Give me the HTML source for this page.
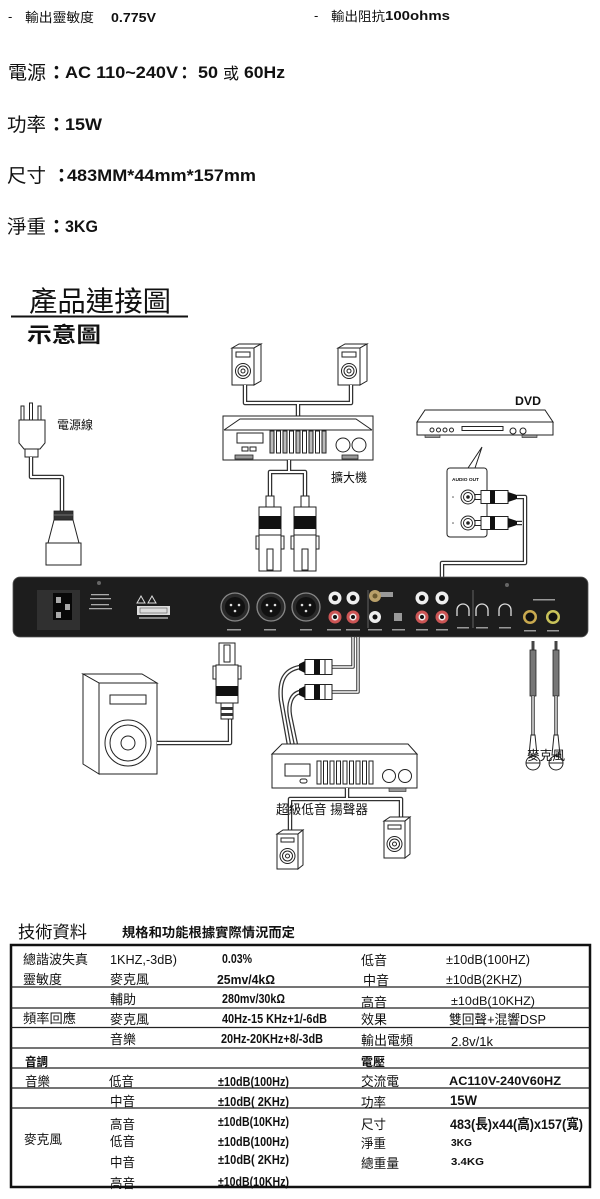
<!DOCTYPE html>
<html><head><meta charset="utf-8">
<style>
html,body{margin:0;padding:0;background:#fff;}
svg{display:block;}
text{font-family:"Liberation Sans","Noto Sans CJK TC",sans-serif;fill:#111;}
.b{font-weight:bold;}
.k{font-family:"Liberation Sans","Noto Sans CJK TC",sans-serif;}
.c1{fill:none;stroke:#333;stroke-width:4.5;stroke-linejoin:round;}
.c2{fill:none;stroke:#fff;stroke-width:2;stroke-linejoin:round;}
.s{stroke:#222;stroke-width:1;fill:#fff;}
.sn{stroke:#222;stroke-width:1;fill:none;}
</style></head><body>
<svg width="600" height="1199" viewBox="0 0 600 1199" xmlns="http://www.w3.org/2000/svg">

<!-- ===== top specs ===== -->
<text x="8" y="21" font-size="13">-</text>
<text x="25" y="22" font-size="13" textLength="69" lengthAdjust="spacingAndGlyphs">輸出靈敏度</text>
<text x="111" y="22" font-size="13" class="b" textLength="45" lengthAdjust="spacingAndGlyphs">0.775V</text>
<text x="314" y="20" font-size="13">-</text>
<text x="331" y="21" font-size="13" textLength="54" lengthAdjust="spacingAndGlyphs">輸出阻抗</text>
<text x="385" y="20" font-size="13" class="b" textLength="65" lengthAdjust="spacingAndGlyphs">100ohms</text>

<text x="8" y="79" font-size="19" textLength="38" lengthAdjust="spacingAndGlyphs">電源</text>
<text x="47" y="79" font-size="19" class="b">：</text>
<text x="65" y="78" font-size="17" class="b" textLength="113" lengthAdjust="spacingAndGlyphs">AC 110~240V</text>
<text x="176" y="79" font-size="17" class="b">：</text>
<text x="198" y="78" font-size="17" class="b" textLength="20" lengthAdjust="spacingAndGlyphs">50</text>
<text x="223" y="79" font-size="16">或</text>
<text x="244" y="78" font-size="17" class="b" textLength="41" lengthAdjust="spacingAndGlyphs">60Hz</text>

<text x="7" y="131" font-size="19" textLength="39" lengthAdjust="spacingAndGlyphs">功率</text>
<text x="47" y="131" font-size="19" class="b">：</text>
<text x="65" y="130" font-size="17" class="b" textLength="37" lengthAdjust="spacingAndGlyphs">15W</text>

<text x="7" y="182" font-size="19" textLength="39" lengthAdjust="spacingAndGlyphs">尺寸</text>
<text x="52" y="182" font-size="19" class="b">：</text>
<text x="67" y="181" font-size="17" class="b" textLength="189" lengthAdjust="spacingAndGlyphs">483MM*44mm*157mm</text>

<text x="7" y="233" font-size="19" textLength="39" lengthAdjust="spacingAndGlyphs">淨重</text>
<text x="47" y="233" font-size="19" class="b">：</text>
<text x="65" y="232" font-size="17" class="b" textLength="33" lengthAdjust="spacingAndGlyphs">3KG</text>

<!-- ===== title ===== -->
<text x="29" y="311" font-size="28" textLength="142" lengthAdjust="spacingAndGlyphs">產品連接圖</text>
<line x1="11" y1="316.5" x2="188" y2="316.5" stroke="#111" stroke-width="2"/>
<text x="27" y="342" font-size="21" class="b" textLength="74" lengthAdjust="spacingAndGlyphs">示意圖</text>

<!-- ===== top speakers ===== -->
<g>
  <path class="s" d="M232,348 L239,344 L261,344 L254,348 Z"/>
  <rect class="s" x="232" y="348" width="22" height="37"/>
  <path class="s" d="M254,348 L261,344 L261,381 L254,385 Z"/>
  <rect class="s" x="236" y="352" width="14" height="5"/>
  <circle class="s" cx="243" cy="371" r="7.5"/>
  <circle class="s" cx="243" cy="371" r="5"/>
  <circle class="s" cx="243" cy="371" r="2"/>
</g>
<g transform="translate(106,0)">
  <path class="s" d="M232,348 L239,344 L261,344 L254,348 Z"/>
  <rect class="s" x="232" y="348" width="22" height="37"/>
  <path class="s" d="M254,348 L261,344 L261,381 L254,385 Z"/>
  <rect class="s" x="236" y="352" width="14" height="5"/>
  <circle class="s" cx="243" cy="371" r="7.5"/>
  <circle class="s" cx="243" cy="371" r="5"/>
  <circle class="s" cx="243" cy="371" r="2"/>
</g>
<path class="c1" d="M245,385 V403 H351 V385 M298,403 V416"/>
<path class="c2" d="M245,385 V403 H351 V385 M298,403 V416"/>

<!-- ===== amplifier ===== -->
<rect class="s" x="223" y="416" width="150" height="44"/>
<path class="sn" d="M224,430 H372 M224,430 L240,419 H356 L372,430"/>
<rect class="s" x="237" y="433" width="26" height="10"/>
<rect class="s" x="242" y="447" width="6" height="4"/>
<rect class="s" x="250" y="447" width="6" height="4"/>
<g class="s">
  <rect x="270" y="431" width="4" height="22" fill="#bbb"/>
  <rect x="276.5" y="431" width="4" height="22"/>
  <rect x="283" y="431" width="4" height="22" fill="#bbb"/>
  <rect x="289.5" y="431" width="4" height="22"/>
  <rect x="296" y="431" width="4" height="22" fill="#bbb"/>
  <rect x="302.5" y="431" width="4" height="22"/>
  <rect x="309" y="431" width="4" height="22" fill="#bbb"/>
  <rect x="315.5" y="431" width="4" height="22"/>
  <rect x="322" y="431" width="4" height="22" fill="#bbb"/>
</g>
<circle class="s" cx="343" cy="445" r="7"/>
<circle class="s" cx="359" cy="445" r="7"/>
<rect x="235" y="455" width="18" height="4" fill="#999" stroke="#222" stroke-width="0.8"/>
<rect x="342" y="455" width="16" height="4" fill="#999" stroke="#222" stroke-width="0.8"/>
<text x="331" y="482" font-size="12.5" textLength="36" lengthAdjust="spacingAndGlyphs">擴大機</text>

<path class="c1" d="M289,460 V472 M270,498 V472 H305 V498"/>
<path class="c2" d="M289,460 V472 M270,498 V472 H305 V498"/>

<!-- XLR plugs (top) -->
<g>
  <rect class="s" x="266" y="496" width="8" height="11" fill="#ccc"/>
  <rect class="s" x="259" y="507" width="22" height="64"/>
  <rect x="259" y="516" width="22" height="13" fill="#111"/>
  <rect class="s" x="256" y="536" width="3" height="13"/>
  <rect class="s" x="281" y="536" width="3" height="13"/>
  <line class="sn" x1="259" y1="535" x2="281" y2="535"/>
  <rect class="s" x="267" y="549" width="6" height="21"/>
</g>
<g transform="translate(35,0)">
  <rect class="s" x="266" y="496" width="8" height="11" fill="#ccc"/>
  <rect class="s" x="259" y="507" width="22" height="64"/>
  <rect x="259" y="516" width="22" height="13" fill="#111"/>
  <rect class="s" x="256" y="536" width="3" height="13"/>
  <rect class="s" x="281" y="536" width="3" height="13"/>
  <line class="sn" x1="259" y1="535" x2="281" y2="535"/>
  <rect class="s" x="267" y="549" width="6" height="21"/>
</g>

<!-- ===== power cord ===== -->
<g>
  <rect class="s" x="21" y="406" width="3" height="14"/>
  <rect class="s" x="29.5" y="403" width="3" height="17"/>
  <rect class="s" x="38" y="406" width="3" height="14"/>
  <path class="s" d="M19,420 H45 V443 L40,449 H24 L19,443 Z"/>
  <rect class="s" x="25" y="449" width="13" height="8"/>
</g>
<text x="57" y="429" font-size="12" textLength="36" lengthAdjust="spacingAndGlyphs">電源線</text>
<path class="c1" d="M31,457 V477 H62 V512"/>
<path class="c2" d="M31,457 V477 H62 V512"/>
<rect x="54" y="511" width="19" height="9" fill="#333" stroke="#222" stroke-width="0.8"/>
<line x1="54" y1="515" x2="73" y2="515" stroke="#888" stroke-width="0.8"/>
<path class="s" d="M54,520 H73 L79,543 H48 Z" fill="#e8e8e8"/>
<rect class="s" x="46" y="543" width="35" height="22"/>

<!-- ===== DVD ===== -->
<text x="515" y="405" font-size="12" class="b" textLength="26" lengthAdjust="spacingAndGlyphs">DVD</text>
<path class="s" d="M425,410 H545 L553,422 H417 Z"/>
<rect class="s" x="417" y="422" width="136" height="13"/>
<circle class="s" cx="432" cy="430" r="2"/>
<circle class="s" cx="438.5" cy="430" r="2"/>
<circle class="s" cx="445" cy="430" r="2"/>
<circle class="s" cx="451.5" cy="430" r="2"/>
<rect class="s" x="462" y="426.5" width="41" height="4"/>
<circle class="s" cx="513" cy="431" r="3"/>
<circle class="s" cx="523" cy="431" r="3"/>
<rect x="425" y="435" width="15" height="2.5" fill="#999" stroke="#222" stroke-width="0.6"/>
<rect x="522" y="435" width="15" height="2.5" fill="#999" stroke="#222" stroke-width="0.6"/>
<path class="sn" d="M482,447 L468,468 M482,447 L475,468"/>
<rect class="s" x="447" y="468" width="40" height="69" rx="3"/>
<text x="452" y="481" font-size="4.5" class="b" textLength="27" lengthAdjust="spacingAndGlyphs">AUDIO OUT</text>
<circle class="s" cx="468" cy="497" r="7"/><circle class="s" cx="468" cy="497" r="4.5"/><circle cx="468" cy="497" r="1.8" fill="#222"/>
<circle class="s" cx="468" cy="523" r="7"/><circle class="s" cx="468" cy="523" r="4.5"/><circle cx="468" cy="523" r="1.8" fill="#222"/>
<circle cx="453" cy="497" r="0.8" fill="#555"/><circle cx="453" cy="523" r="0.8" fill="#555"/>
<g>
  <rect class="s" x="475" y="494.5" width="6" height="5"/>
  <rect class="s" x="481" y="490.5" width="27" height="13"/>
  <rect x="490" y="490.5" width="5" height="13" fill="#111"/>
  <path d="M508,492 L517,495 L517,499 L508,502 Z" fill="#111"/>
</g>
<g transform="translate(0,26)">
  <rect class="s" x="475" y="494.5" width="6" height="5"/>
  <rect class="s" x="481" y="490.5" width="27" height="13"/>
  <rect x="490" y="490.5" width="5" height="13" fill="#111"/>
  <path d="M508,492 L517,495 L517,499 L508,502 Z" fill="#111"/>
</g>
<path class="c1" d="M517,497 H525 V563 H442 V578 M517,523 H522"/>
<path class="c2" d="M517,497 H525 V563 H442 V578 M517,523 H522"/>

<!-- ===== main panel ===== -->
<rect x="13" y="577" width="575" height="60" rx="7" fill="#1d1d1d" stroke="#555" stroke-width="0.8"/>
<rect x="37" y="590" width="43" height="40" fill="#303030"/>
<rect x="53" y="593" width="19" height="27" fill="#080808"/>
<rect x="56" y="597" width="5" height="6" fill="#aaa"/>
<rect x="65" y="604" width="5" height="6" fill="#aaa"/>
<rect x="56" y="612" width="5" height="6" fill="#aaa"/>
<g fill="#aaa">
  <rect x="91" y="594" width="18" height="1.3"/>
  <rect x="90" y="598" width="21" height="1.3"/>
  <rect x="91" y="604" width="18" height="1.3"/>
  <rect x="89" y="608" width="23" height="1.3"/>
</g>
<circle cx="99" cy="583" r="2" fill="#666"/>
<path d="M141,596 L145,603 H137 Z M152,596 L156,603 H148 Z" fill="none" stroke="#ddd" stroke-width="1"/>
<rect x="137" y="606" width="33" height="9" fill="#ddd"/>
<rect x="140" y="608" width="27" height="5" fill="none" stroke="#555" stroke-width="0.6"/>
<rect x="139" y="617" width="29" height="2" fill="#888"/>
<circle cx="507" cy="585" r="2" fill="#666"/>

<!-- XLR jacks -->
<g>
  <circle cx="235" cy="607" r="14" fill="#2a2a2a" stroke="#888" stroke-width="1.3"/>
  <circle cx="235" cy="607" r="10" fill="#111"/>
  <circle cx="231" cy="605" r="1.3" fill="#ddd"/><circle cx="239" cy="605" r="1.3" fill="#ddd"/><circle cx="235" cy="611" r="1.3" fill="#ddd"/>
  <circle cx="271" cy="607" r="14" fill="#2a2a2a" stroke="#888" stroke-width="1.3"/>
  <circle cx="271" cy="607" r="10" fill="#111"/>
  <circle cx="267" cy="605" r="1.3" fill="#ddd"/><circle cx="275" cy="605" r="1.3" fill="#ddd"/><circle cx="271" cy="611" r="1.3" fill="#ddd"/>
  <circle cx="306" cy="607" r="14" fill="#2a2a2a" stroke="#888" stroke-width="1.3"/>
  <circle cx="306" cy="607" r="10" fill="#111"/>
  <circle cx="302" cy="605" r="1.3" fill="#ddd"/><circle cx="310" cy="605" r="1.3" fill="#ddd"/><circle cx="306" cy="611" r="1.3" fill="#ddd"/>
</g>
<g fill="#999">
  <rect x="227" y="629" width="14" height="1.5"/><rect x="264" y="629" width="12" height="1.5"/><rect x="300" y="629" width="12" height="1.5"/>
  <rect x="327" y="629" width="14" height="1.5"/><rect x="346" y="629" width="14" height="1.5"/>
  <rect x="368" y="629" width="14" height="1.5"/><rect x="392" y="629" width="13" height="1.5"/>
  <rect x="416" y="629" width="12" height="1.5"/><rect x="436" y="629" width="12" height="1.5"/>
  <rect x="457" y="627" width="12" height="1.5"/><rect x="476" y="627" width="12" height="1.5"/><rect x="499" y="627" width="12" height="1.5"/>
  <rect x="524" y="630" width="12" height="1.5"/><rect x="547" y="630" width="12" height="1.5"/>
  <rect x="533" y="599" width="22" height="1.5"/>
  <rect x="380" y="592" width="13" height="5"/>
</g>
<line x1="368" y1="590" x2="368" y2="628" stroke="#777" stroke-width="0.8"/>
<line x1="473" y1="590" x2="473" y2="628" stroke="#777" stroke-width="0.8"/>
<!-- RCA jacks -->
<g>
  <circle cx="335" cy="598" r="6.5" fill="#eee"/><circle cx="335" cy="598" r="3" fill="#111"/>
  <circle cx="353" cy="598" r="6.5" fill="#eee"/><circle cx="353" cy="598" r="3" fill="#111"/>
  <circle cx="335" cy="617" r="6.5" fill="#c55"/><circle cx="335" cy="617" r="3.5" fill="#eee"/><circle cx="335" cy="617" r="2" fill="#111"/>
  <circle cx="353" cy="617" r="6.5" fill="#c55"/><circle cx="353" cy="617" r="3.5" fill="#eee"/><circle cx="353" cy="617" r="2" fill="#111"/>
  <circle cx="375" cy="596" r="6" fill="#b9a06a"/><circle cx="375" cy="596" r="2.5" fill="#6b5a30"/>
  <circle cx="375" cy="617" r="6" fill="#eee"/><circle cx="375" cy="617" r="2.5" fill="#111"/>
  <rect x="394" y="613" width="8" height="8" fill="#999"/>
  <circle cx="422" cy="598" r="6.5" fill="#eee"/><circle cx="422" cy="598" r="3" fill="#111"/>
  <circle cx="442" cy="598" r="6.5" fill="#eee"/><circle cx="442" cy="598" r="3" fill="#111"/>
  <circle cx="422" cy="617" r="6.5" fill="#c55"/><circle cx="422" cy="617" r="3.5" fill="#eee"/><circle cx="422" cy="617" r="2" fill="#111"/>
  <circle cx="442" cy="617" r="6.5" fill="#c55"/><circle cx="442" cy="617" r="3.5" fill="#eee"/><circle cx="442" cy="617" r="2" fill="#111"/>
</g>
<g fill="none" stroke="#ddd" stroke-width="1.3">
  <path d="M457,616 V610 A6,6 0 0 1 469,610 V616"/>
  <path d="M476,616 V610 A6,6 0 0 1 488,610 V616"/>
  <path d="M499,616 V610 A6,6 0 0 1 511,610 V616"/>
</g>
<circle cx="530" cy="617" r="7" fill="#c9a94f"/><circle cx="530" cy="617" r="4.5" fill="#111"/>
<circle cx="553" cy="617" r="7" fill="#c9c35a"/><circle cx="553" cy="617" r="4.5" fill="#111"/>

<!-- ===== big speaker + XLR ===== -->
<path class="s" d="M83,674 H142 L157,683 H99 Z"/>
<path class="s" d="M83,674 L99,683 V774 L83,764 Z"/>
<rect class="s" x="99" y="683" width="58" height="91"/>
<rect class="s" x="110" y="695" width="36" height="9"/>
<circle class="s" cx="128" cy="743" r="23"/>
<circle class="s" cx="128" cy="743" r="18"/>
<circle class="s" cx="128" cy="743" r="7"/>
<path class="c1" d="M157,743 H230 V716"/>
<path class="c2" d="M157,743 H230 V716"/>
<g>
  <rect class="s" x="219" y="643" width="16" height="22"/>
  <rect class="s" x="224" y="645" width="6" height="17"/>
  <rect class="s" x="213" y="666" width="3" height="13"/>
  <rect class="s" x="238" y="666" width="3" height="13"/>
  <rect class="s" x="216" y="665" width="22" height="38"/>
  <rect x="216" y="686" width="22" height="10" fill="#111"/>
  <rect class="s" x="221" y="703" width="12" height="16"/>
  <rect x="221" y="707" width="12" height="3" fill="#333"/>
  <rect x="221" y="713" width="12" height="3" fill="#333"/>
</g>

<!-- ===== sub amp cables & RCA plugs ===== -->
<path class="c1" d="M332,667 H353 V637 M332,692 H358 V637" style="stroke-width:3.5"/>
<path class="c2" d="M332,667 H353 V637 M332,692 H358 V637" style="stroke-width:1.4"/>
<path class="c1" d="M300,667 C284,670 279,681 281,700 L289,745 M300,692 C291,694 288,704 290,716 L296,745"/>
<path class="c2" d="M300,667 C284,670 279,681 281,700 L289,745 M300,692 C291,694 288,704 290,716 L296,745"/>
<g>
  <rect class="s" x="305" y="659.5" width="27" height="15"/>
  <rect x="314" y="659.5" width="6" height="15" fill="#111"/>
  <line class="sn" x1="325" y1="659.5" x2="325" y2="674.5"/>
  <path d="M305,661 L299,664 V670 L305,673 Z" fill="#111"/>
</g>
<g transform="translate(0,25)">
  <rect class="s" x="305" y="659.5" width="27" height="15"/>
  <rect x="314" y="659.5" width="6" height="15" fill="#111"/>
  <line class="sn" x1="325" y1="659.5" x2="325" y2="674.5"/>
  <path d="M305,661 L299,664 V670 L305,673 Z" fill="#111"/>
</g>

<!-- sub amp -->
<path class="s" d="M282,744 H408 L417,754 H272 Z"/>
<rect class="s" x="272" y="754" width="145" height="34"/>
<rect class="s" x="285" y="764" width="25" height="12"/>
<rect class="s" x="300" y="779" width="7" height="4" rx="2"/>
<g class="s">
  <rect x="317" y="761" width="4" height="23"/>
  <rect x="323.5" y="761" width="4" height="23"/>
  <rect x="330" y="761" width="4" height="23"/>
  <rect x="336.5" y="761" width="4" height="23"/>
  <rect x="343" y="761" width="4" height="23"/>
  <rect x="349.5" y="761" width="4" height="23"/>
  <rect x="356" y="761" width="4" height="23"/>
  <rect x="362.5" y="761" width="4" height="23"/>
  <rect x="369" y="761" width="4" height="23"/>
</g>
<circle class="s" cx="389" cy="776" r="6.5"/>
<circle class="s" cx="405" cy="776" r="6.5"/>
<rect x="389" y="788" width="17" height="3.5" fill="#999" stroke="#222" stroke-width="0.6"/>
<path class="c1" d="M347,788 V799 M290,833 V799 H401 V820"/>
<path class="c2" d="M347,788 V799 M290,833 V799 H401 V820"/>
<text x="276" y="814" font-size="13" textLength="92" lengthAdjust="spacingAndGlyphs">超級低音 揚聲器</text>

<!-- sub speakers -->
<g>
  <path class="s" d="M277,834 L283,830 L303,830 L298,834 Z"/>
  <rect class="s" x="277" y="834" width="21" height="35"/>
  <path class="s" d="M298,834 L303,830 L303,865 L298,869 Z"/>
  <rect class="s" x="281" y="838" width="13" height="4"/>
  <circle class="s" cx="287.5" cy="856" r="7.5"/>
  <circle class="s" cx="287.5" cy="856" r="5"/>
  <circle class="s" cx="287.5" cy="856" r="2"/>
</g>
<g>
  <path class="s" d="M384,821 L390,817 L410,817 L405,821 Z"/>
  <rect class="s" x="384" y="821" width="21" height="37"/>
  <path class="s" d="M405,821 L410,817 L410,854 L405,858 Z"/>
  <rect class="s" x="388" y="825" width="13" height="4"/>
  <circle class="s" cx="394.5" cy="844" r="7.5"/>
  <circle class="s" cx="394.5" cy="844" r="5"/>
  <circle class="s" cx="394.5" cy="844" r="2"/>
</g>

<!-- ===== microphones ===== -->
<g>
  <rect x="531.5" y="641" width="3" height="9" fill="#444"/>
  <rect x="530" y="650" width="6" height="46" fill="#777" stroke="#222" stroke-width="0.8"/>
  <path class="c1" d="M533,696 V736" style="stroke-width:3.5"/><path class="c2" d="M533,696 V736" style="stroke-width:1.3"/>
  <path class="s" d="M531,735 H535 L537,755 H529 Z"/>
  <circle class="s" cx="533" cy="763" r="7"/>
  <line class="sn" x1="526" y1="763" x2="540" y2="763"/>
</g>
<g transform="translate(23,0)">
  <rect x="531.5" y="641" width="3" height="9" fill="#444"/>
  <rect x="530" y="650" width="6" height="46" fill="#777" stroke="#222" stroke-width="0.8"/>
  <path class="c1" d="M533,696 V736" style="stroke-width:3.5"/><path class="c2" d="M533,696 V736" style="stroke-width:1.3"/>
  <path class="s" d="M531,735 H535 L537,755 H529 Z"/>
  <circle class="s" cx="533" cy="763" r="7"/>
  <line class="sn" x1="526" y1="763" x2="540" y2="763"/>
</g>
<text x="527" y="760" font-size="13" textLength="38" lengthAdjust="spacingAndGlyphs">麥克風</text>

<!-- ===== tech spec table ===== -->
<text x="18" y="938" font-size="17" textLength="69" lengthAdjust="spacingAndGlyphs">技術資料</text>
<text x="122" y="937" font-size="13" class="b" textLength="173" lengthAdjust="spacingAndGlyphs">規格和功能根據實際情況而定</text>

<rect x="11" y="945" width="579" height="242" fill="none" stroke="#111" stroke-width="2.5"/>
<g stroke="#222" stroke-width="1.3">
  <line x1="11" y1="987" x2="590" y2="987"/>
  <line x1="11" y1="1008" x2="590" y2="1008"/>
  <line x1="11" y1="1027.5" x2="590" y2="1027.5"/>
  <line x1="11" y1="1048" x2="590" y2="1048"/>
  <line x1="11" y1="1068" x2="590" y2="1068"/>
  <line x1="11" y1="1088" x2="590" y2="1088"/>
  <line x1="11" y1="1108" x2="590" y2="1108"/>
</g>

<g font-size="13">
  <!-- R1 -->
  <text x="23" y="964" textLength="65" lengthAdjust="spacingAndGlyphs">總諧波失真</text>
  <text x="110" y="964" textLength="67" lengthAdjust="spacingAndGlyphs">1KHZ,-3dB)</text>
  <text x="222" y="963" class="b" textLength="30" lengthAdjust="spacingAndGlyphs">0.03%</text>
  <text x="361" y="965" textLength="26" lengthAdjust="spacingAndGlyphs">低音</text>
  <text x="446" y="964" textLength="84" lengthAdjust="spacingAndGlyphs">±10dB(100HZ)</text>
  <!-- R2 -->
  <text x="23" y="984" textLength="39" lengthAdjust="spacingAndGlyphs">靈敏度</text>
  <text x="110" y="984" textLength="39" lengthAdjust="spacingAndGlyphs">麥克風</text>
  <text x="217" y="984" class="b" textLength="58" lengthAdjust="spacingAndGlyphs">25mv/4kΩ</text>
  <text x="363" y="985" textLength="26" lengthAdjust="spacingAndGlyphs">中音</text>
  <text x="446" y="984" textLength="76" lengthAdjust="spacingAndGlyphs">±10dB(2KHZ)</text>
  <!-- R3 -->
  <text x="110" y="1004" textLength="26" lengthAdjust="spacingAndGlyphs">輔助</text>
  <text x="222" y="1003" class="b" textLength="63" lengthAdjust="spacingAndGlyphs">280mv/30kΩ</text>
  <text x="361" y="1007" textLength="26" lengthAdjust="spacingAndGlyphs">高音</text>
  <text x="451" y="1005" font-size="12" textLength="84" lengthAdjust="spacingAndGlyphs">±10dB(10KHZ)</text>
  <!-- R4 -->
  <text x="23" y="1023" textLength="53" lengthAdjust="spacingAndGlyphs">頻率回應</text>
  <text x="110" y="1024" textLength="39" lengthAdjust="spacingAndGlyphs">麥克風</text>
  <text x="222" y="1023" class="b" textLength="105" lengthAdjust="spacingAndGlyphs">40Hz-15 KHz+1/-6dB</text>
  <text x="361" y="1024" textLength="26" lengthAdjust="spacingAndGlyphs">效果</text>
  <text x="449" y="1024" textLength="97" lengthAdjust="spacingAndGlyphs">雙回聲+混響DSP</text>
  <!-- R5 -->
  <text x="110" y="1044" textLength="26" lengthAdjust="spacingAndGlyphs">音樂</text>
  <text x="221" y="1043" class="b" textLength="102" lengthAdjust="spacingAndGlyphs">20Hz-20KHz+8/-3dB</text>
  <text x="361" y="1045" textLength="52" lengthAdjust="spacingAndGlyphs">輸出電頻</text>
  <text x="451" y="1046" textLength="42" lengthAdjust="spacingAndGlyphs">2.8v/1k</text>
  <!-- R6 -->
  <text x="25" y="1066" font-size="12" class="b" textLength="23" lengthAdjust="spacingAndGlyphs">音調</text>
  <text x="361" y="1066" font-size="12" class="b" textLength="24" lengthAdjust="spacingAndGlyphs">電壓</text>
  <!-- R7 -->
  <text x="25" y="1086" textLength="25" lengthAdjust="spacingAndGlyphs">音樂</text>
  <text x="109" y="1086" textLength="25" lengthAdjust="spacingAndGlyphs">低音</text>
  <text x="218" y="1086" class="b" textLength="71" lengthAdjust="spacingAndGlyphs">±10dB(100Hz)</text>
  <text x="361" y="1086" textLength="38" lengthAdjust="spacingAndGlyphs">交流電</text>
  <text x="449" y="1085" font-size="12" class="b" textLength="112" lengthAdjust="spacingAndGlyphs">AC110V-240V60HZ</text>
  <!-- R8 -->
  <text x="110" y="1106" textLength="25" lengthAdjust="spacingAndGlyphs">中音</text>
  <text x="218" y="1106" class="b" textLength="71" lengthAdjust="spacingAndGlyphs">±10dB( 2KHz)</text>
  <text x="361" y="1107" textLength="25" lengthAdjust="spacingAndGlyphs">功率</text>
  <text x="450" y="1105" font-size="14" class="b" textLength="27" lengthAdjust="spacingAndGlyphs">15W</text>
  <!-- R9 -->
  <text x="110" y="1129" textLength="25" lengthAdjust="spacingAndGlyphs">高音</text>
  <text x="218" y="1126" class="b" textLength="71" lengthAdjust="spacingAndGlyphs">±10dB(10KHz)</text>
  <text x="361" y="1129" textLength="25" lengthAdjust="spacingAndGlyphs">尺寸</text>
  <text x="450" y="1129" font-size="14" class="b" textLength="133" lengthAdjust="spacingAndGlyphs">483(長)x44(高)x157(寬)</text>
  <!-- R10 -->
  <text x="24" y="1144" textLength="38" lengthAdjust="spacingAndGlyphs">麥克風</text>
  <text x="110" y="1146" textLength="25" lengthAdjust="spacingAndGlyphs">低音</text>
  <text x="218" y="1146" class="b" textLength="71" lengthAdjust="spacingAndGlyphs">±10dB(100Hz)</text>
  <text x="361" y="1148" textLength="25" lengthAdjust="spacingAndGlyphs">淨重</text>
  <text x="451" y="1146" font-size="10" class="b" textLength="21" lengthAdjust="spacingAndGlyphs">3KG</text>
  <!-- R11 -->
  <text x="110" y="1167" textLength="25" lengthAdjust="spacingAndGlyphs">中音</text>
  <text x="218" y="1164" class="b" textLength="71" lengthAdjust="spacingAndGlyphs">±10dB( 2KHz)</text>
  <text x="361" y="1168" textLength="38" lengthAdjust="spacingAndGlyphs">總重量</text>
  <text x="451" y="1165" font-size="10" class="b" textLength="33" lengthAdjust="spacingAndGlyphs">3.4KG</text>
  <!-- R12 -->
  <text x="110" y="1188" textLength="25" lengthAdjust="spacingAndGlyphs">高音</text>
  <text x="218" y="1186" class="b" textLength="71" lengthAdjust="spacingAndGlyphs">±10dB(10KHz)</text>
</g>
</svg>
</body></html>
